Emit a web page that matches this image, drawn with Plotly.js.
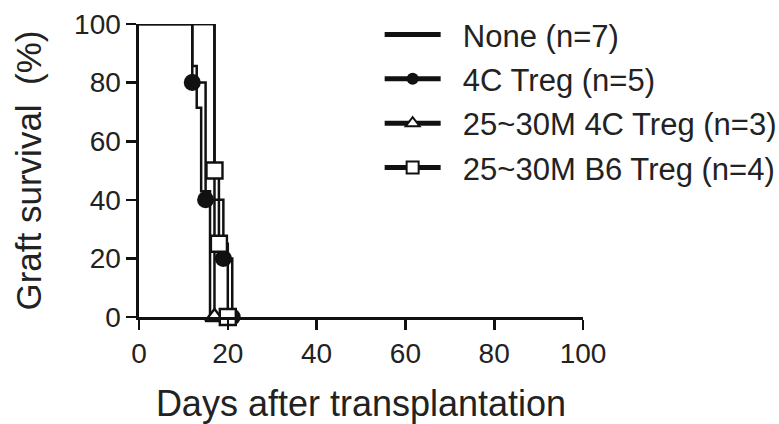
<!DOCTYPE html>
<html>
<head>
<meta charset="utf-8">
<script src="https://cdn.plot.ly/plotly-3.0.1.min.js"></script>
<style>html,body{margin:0;padding:0;background:#fff;}#chart{width:779px;height:424px;}</style>
</head>
<body>
<div id="chart"></div>
<script>
// Kaplan-Meier step data (days, % surviving)
const noneDays = [0, 12, 13, 14, 16];
const noneSurv = [100, 85.7, 71.4, 42.9, 0];

const c4Days = [0, 12, 15, 19, 21];
const c4Surv = [100, 80, 40, 20, 0];

const m4cDays = [0, 17];
const m4cSurv = [100, 0];

const b6Days = [0, 17, 18, 20];
const b6Surv = [100, 50, 25, 0];

const seriesNames = ["None (n=7)", "4C Treg (n=5)", "25~30M 4C Treg (n=3)", "25~30M B6 Treg (n=4)"];
const xTicks = [0, 20, 40, 60, 80, 100];
const yTicks = [0, 20, 40, 60, 80, 100];

const FONT = "Liberation Sans, Arial, sans-serif";
const PAD = "\u00a0\u00a0";

function sizes(arr, s) { return arr.map((v, i) => i === 0 ? 0 : s); }

const traces = [
  {x: noneDays, y: noneSurv, name: PAD + seriesNames[0], mode: "lines", line: {shape: "hv", color: "#111", width: 2.5}, legendgroup: "a"},
  {x: c4Days, y: c4Surv, name: PAD + seriesNames[1], mode: "lines+markers", line: {shape: "hv", color: "#111", width: 2.5},
   marker: {symbol: "circle", size: sizes(c4Days, 17), color: "#111", opacity: 1, line: {width: 0}}, legendgroup: "b"},
  {x: m4cDays, y: m4cSurv, name: PAD + seriesNames[2], mode: "lines+markers", line: {shape: "hv", color: "#111", width: 2.5},
   marker: {symbol: "triangle-up", size: sizes(m4cDays, 16), color: "#fff", opacity: 1, line: {width: 2.4, color: "#111"}}, legendgroup: "c"},
  {x: b6Days, y: b6Surv, name: PAD + seriesNames[3], mode: "lines+markers", line: {shape: "hv", color: "#111", width: 2.5},
   marker: {symbol: "square", size: sizes(b6Days, 16), color: "#fff", opacity: 1, line: {width: 2.4, color: "#111"}}, legendgroup: "d"}
];
traces.forEach(t => { t.cliponaxis = false; t.opacity = 1; });

const axisCommon = {
  showgrid: false, zeroline: false, showline: true, linecolor: "#111", linewidth: 2.6,
  ticks: "outside", ticklen: 10, tickwidth: 2.6, tickcolor: "#111",
  tickfont: {family: FONT, size: 28, color: "#222"}, fixedrange: true
};

const layout = {
  width: 779, height: 424,
  margin: {l: 139, r: 196, t: 24, b: 107, autoexpand: false},
  paper_bgcolor: "#fff", plot_bgcolor: "#fff",
  font: {family: FONT, color: "#222"},
  xaxis: Object.assign({}, axisCommon, {range: [0, 100], tickvals: xTicks, ticktext: xTicks.map(String),
    title: {text: "Days after transplantation", font: {family: FONT, size: 36, color: "#222"}, standoff: 24}}),
  yaxis: Object.assign({}, axisCommon, {range: [0, 100], tickvals: yTicks, ticktext: yTicks.map(String),
    title: {text: "Graft survival  (%)", font: {family: FONT, size: 35, color: "#222"}, standoff: 22}}),
  showlegend: true,
  legend: {x: 0.542, xanchor: "left", y: 1.055, yanchor: "top", font: {family: FONT, size: 31, color: "#222"},
    bgcolor: "rgba(0,0,0,0)", itemwidth: 56, tracegroupgap: 1, itemsizing: "constant"}
};

Plotly.newPlot("chart", traces, layout, {displayModeBar: false, staticPlot: true});
</script>
</body>
</html>
